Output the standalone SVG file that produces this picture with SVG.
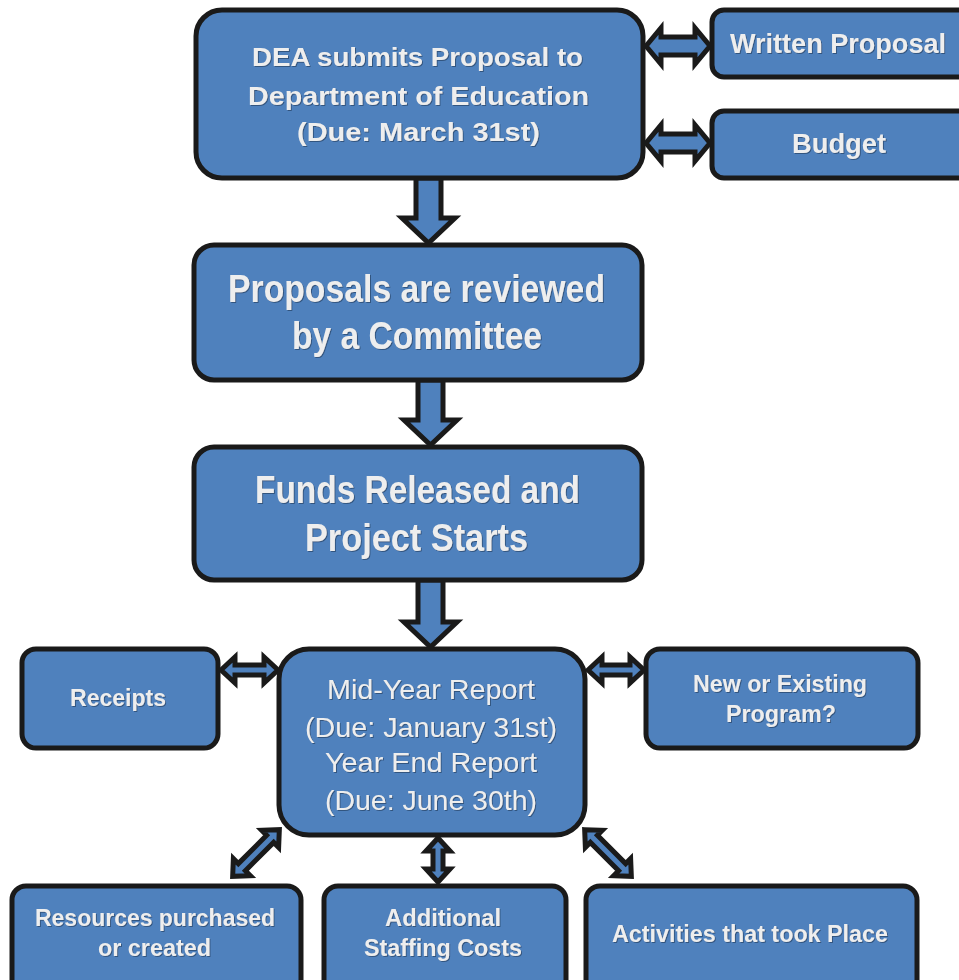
<svg xmlns="http://www.w3.org/2000/svg" width="959" height="980" viewBox="0 0 959 980">
<defs>
<filter id="sh" x="-5%" y="-20%" width="110%" height="140%">
<feDropShadow dx="1" dy="1" stdDeviation="0.6" flood-color="#2a4a70" flood-opacity="0.8"/>
</filter>
</defs>
<style>
.box{fill:#4f81bd;stroke:#1a1a1a;stroke-width:5}
.arr{fill:#4f81bd;stroke:#1a1a1a;stroke-width:5;stroke-linejoin:miter}
text{font-family:"Liberation Sans",Arial,sans-serif;fill:#eeeeee;text-anchor:middle;font-weight:bold;filter:url(#sh)}
.reg{font-weight:normal}
</style>
<rect x="0" y="0" width="959" height="980" fill="#ffffff"/>
<g id="connectors">
<polygon class="arr" points="646,46 661,28 661,37 695,37 695,28 710,46 695,64 695,55 661,55 661,64"/>
<polygon class="arr" points="646,143 661,125 661,134 695,134 695,125 710,143 695,161 695,152 661,152 661,161"/>
<polygon class="arr" points="416,178 441,178 441,218 455,218 428.5,243 402,218 416,218"/>
<polygon class="arr" points="418,380 443,380 443,420 457,420 430.5,445 404,420 418,420"/>
<polygon class="arr" points="418,580 443,580 443,622 457,622 430.5,647 404,622 418,622"/>
<polygon class="arr" points="221,670 235,657 235,665 264,665 264,657 278,670 264,683 264,675 235,675 235,683"/>
<polygon class="arr" points="588,670 602,657 602,665 630,665 630,657 644,670 630,683 630,675 602,675 602,683"/>
<polygon class="arr" points="438,838 450,851 443,851 443,869 450,869 438,882 426,869 433,869 433,851 426,851"/>
<g transform="translate(256,853) rotate(-45)">
<polygon class="arr" points="-33,0 -20,-12 -20,-5 20,-5 20,-12 33,0 20,12 20,5 -20,5 -20,12"/>
</g>
<g transform="translate(608,853) rotate(45)">
<polygon class="arr" points="-33,0 -20,-12 -20,-5 20,-5 20,-12 33,0 20,12 20,5 -20,5 -20,12"/>
</g>
</g>
<g id="n1">
<rect class="box" x="196" y="10" width="447" height="168" rx="26"/>
<text x="417.5" y="66" font-size="26" textLength="331" lengthAdjust="spacingAndGlyphs">DEA submits Proposal to</text>
<text x="418.5" y="105" font-size="26" textLength="341" lengthAdjust="spacingAndGlyphs">Department of Education</text>
<text x="418.5" y="141" font-size="26" textLength="243" lengthAdjust="spacingAndGlyphs">(Due: March 31st)</text>
</g>
<g id="n_written">
<rect class="box" x="712" y="10" width="270" height="67" rx="12"/>
<text x="838" y="53" font-size="28" textLength="216" lengthAdjust="spacingAndGlyphs">Written Proposal</text>
</g>
<g id="n_budget">
<rect class="box" x="712" y="111" width="270" height="67" rx="12"/>
<text x="839" y="153" font-size="28" textLength="94" lengthAdjust="spacingAndGlyphs">Budget</text>
</g>
<g id="n2">
<rect class="box" x="194" y="245" width="448" height="135" rx="20"/>
<text x="416.5" y="302" font-size="38" textLength="377" lengthAdjust="spacingAndGlyphs">Proposals are reviewed</text>
<text x="417" y="349" font-size="38" textLength="250" lengthAdjust="spacingAndGlyphs">by a Committee</text>
</g>
<g id="n3">
<rect class="box" x="194" y="447" width="448" height="133" rx="20"/>
<text x="417.5" y="503" font-size="38" textLength="325" lengthAdjust="spacingAndGlyphs">Funds Released and</text>
<text x="416.5" y="551" font-size="38" textLength="223" lengthAdjust="spacingAndGlyphs">Project Starts</text>
</g>
<g id="n4">
<rect class="box" x="279" y="649" width="306" height="186" rx="30"/>
<text class="reg" x="431" y="699" font-size="28" textLength="208" lengthAdjust="spacingAndGlyphs">Mid-Year Report</text>
<text class="reg" x="431" y="737" font-size="28" textLength="252" lengthAdjust="spacingAndGlyphs">(Due: January 31st)</text>
<text class="reg" x="431" y="772" font-size="28" textLength="212" lengthAdjust="spacingAndGlyphs">Year End Report</text>
<text class="reg" x="431" y="810" font-size="28" textLength="212" lengthAdjust="spacingAndGlyphs">(Due: June 30th)</text>
</g>
<g id="n_receipts">
<rect class="box" x="22" y="649" width="196" height="99" rx="14"/>
<text x="118" y="706" font-size="23" textLength="96" lengthAdjust="spacingAndGlyphs">Receipts</text>
</g>
<g id="n_program">
<rect class="box" x="646" y="649" width="272" height="99" rx="14"/>
<text x="780" y="692" font-size="23" textLength="174" lengthAdjust="spacingAndGlyphs">New or Existing</text>
<text x="781" y="722" font-size="23" textLength="110" lengthAdjust="spacingAndGlyphs">Program?</text>
</g>
<g id="n_resources">
<rect class="box" x="12" y="886" width="289" height="110" rx="14"/>
<text x="155" y="926" font-size="23" textLength="240" lengthAdjust="spacingAndGlyphs">Resources purchased</text>
<text x="154.5" y="956" font-size="23" textLength="113" lengthAdjust="spacingAndGlyphs">or created</text>
</g>
<g id="n_staffing">
<rect class="box" x="324" y="886" width="242" height="110" rx="14"/>
<text x="443" y="926" font-size="23" textLength="116" lengthAdjust="spacingAndGlyphs">Additional</text>
<text x="443" y="956" font-size="23" textLength="158" lengthAdjust="spacingAndGlyphs">Staffing Costs</text>
</g>
<g id="n_activities">
<rect class="box" x="586" y="886" width="331" height="110" rx="14"/>
<text x="750" y="942" font-size="23" textLength="276" lengthAdjust="spacingAndGlyphs">Activities that took Place</text>
</g>
</svg>
